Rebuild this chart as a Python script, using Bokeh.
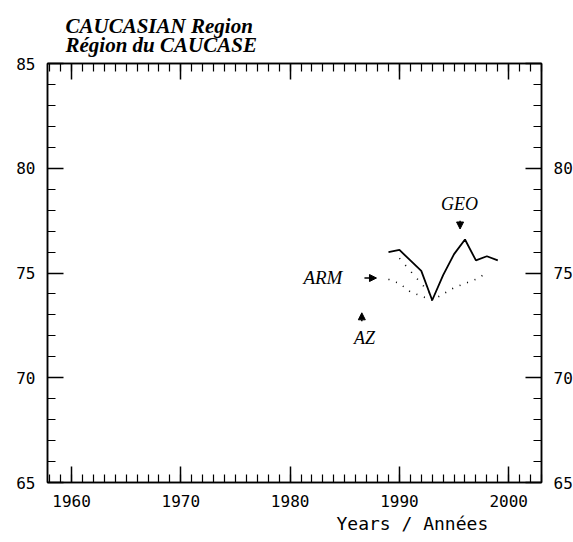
from bokeh.plotting import figure
from bokeh.models import (LinearAxis, SingleIntervalTicker, Label, Arrow, NormalHead, Title)
from bokeh.embed import file_html
from bokeh.resources import INLINE

# ---- data ----
geo_years = [1989, 1990, 1991, 1992, 1993, 1994, 1995, 1996, 1997, 1998, 1999]
geo_values = [76.0, 76.1, 75.6, 75.1, 73.7, 74.9, 75.9, 76.6, 75.6, 75.8, 75.6]

arm_years = [1989, 1990, 1991, 1992, 1993, 1994, 1995, 1996, 1997, 1998]
arm_values = [74.7, 74.5, 74.1, 73.9, 73.7, 74.0, 74.3, 74.5, 74.7, 75.0]

az_years = [1990, 1991, 1992, 1993]
az_values = [75.7, 75.1, 74.5, 73.9]

x_start, x_end = 1957.8, 2003.0
y_start, y_end = 65, 85

title_line1 = "CAUCASIAN Region"
title_line2 = "Région du CAUCASE"
x_title = "Years / Années"

TICK_FONT = "DejaVu Sans Mono"
SERIF = "Liberation Serif"

p = figure(frame_width=494, frame_height=419,
           x_range=(x_start, x_end), y_range=(y_start, y_end),
           output_backend="svg", toolbar_location=None,
           min_border_left=47, min_border_top=63,
           min_border_right=24, min_border_bottom=50,
           background_fill_color="white", border_fill_color="white")
p.title.visible = False
p.xgrid.visible = False
p.ygrid.visible = False
p.outline_line_color = "black"
p.outline_line_width = 1.5

def style_axis(ax, labels=True):
    ax.axis_line_color = "black"
    ax.axis_line_width = 1.5
    ax.major_tick_in = 16
    ax.major_tick_out = 0
    ax.minor_tick_in = 8
    ax.minor_tick_out = 0
    ax.major_tick_line_color = "black"
    ax.minor_tick_line_color = "black"
    ax.major_tick_line_width = 1.5
    ax.minor_tick_line_width = 1.2
    ax.major_label_text_font = TICK_FONT
    ax.major_label_text_font_size = "16px"
    ax.major_label_text_color = "black" if labels else None
    ax.major_label_standoff = 12

p.xaxis[0].ticker = SingleIntervalTicker(interval=10, num_minor_ticks=10)
p.yaxis[0].ticker = SingleIntervalTicker(interval=5, num_minor_ticks=5)
style_axis(p.xaxis[0])
style_axis(p.yaxis[0])

top = LinearAxis(ticker=SingleIntervalTicker(interval=10, num_minor_ticks=10),
                 major_label_overrides={1960: "", 1970: "", 1980: "", 1990: "", 2000: ""})
style_axis(top, labels=False)
top.major_label_standoff = 0
p.add_layout(top, "above")

right = LinearAxis(ticker=SingleIntervalTicker(interval=5, num_minor_ticks=5),
                   major_label_overrides={85: ""})
style_axis(right)
p.add_layout(right, "right")

# ---- series ----
p.line(geo_years, geo_values, line_color="black", line_width=1.8)
p.line(arm_years, arm_values, line_color="black", line_width=1.6, line_dash="1 7")
p.line(az_years, az_values, line_color="black", line_width=1.6, line_dash="1 8")

# ---- titles ----
p.add_layout(Title(text=title_line1 + "\n" + title_line2, align="left", offset=18,
                   text_font=SERIF, text_font_style="bold italic",
                   text_font_size="21px", text_line_height=0.82, standoff=12,
                   text_color="black"), "above")
p.add_layout(Title(text=x_title, align="left", offset=289,
                   text_font=TICK_FONT, text_font_style="normal",
                   text_font_size="18px", standoff=3,
                   text_color="black"), "below")

# ---- series annotations ----
p.add_layout(Label(x=1983.0, y=74.8, text="ARM", text_font=SERIF,
                   text_font_style="italic", text_font_size="19px",
                   text_align="center", text_baseline="middle", text_color="black"))
p.add_layout(Label(x=1995.5, y=78.3, text="GEO", text_font=SERIF,
                   text_font_style="italic", text_font_size="18px",
                   text_align="center", text_baseline="middle", text_color="black"))
p.add_layout(Label(x=1986.8, y=71.9, text="AZ", text_font=SERIF,
                   text_font_style="italic", text_font_size="18px",
                   text_align="center", text_baseline="middle", text_color="black"))

head = dict(size=7, fill_color="black", line_color="black")
p.add_layout(Arrow(x_start=1986.8, y_start=74.76, x_end=1987.9, y_end=74.76,
                   end=NormalHead(**head), line_width=1.5, line_color="black"))
p.add_layout(Arrow(x_start=1995.55, y_start=77.5, x_end=1995.55, y_end=77.1,
                   end=NormalHead(**head), line_width=1.5, line_color="black"))
p.add_layout(Arrow(x_start=1986.56, y_start=72.7, x_end=1986.56, y_end=73.1,
                   end=NormalHead(**head), line_width=1.5, line_color="black"))

open("out.html", "w").write(file_html(p, INLINE))
